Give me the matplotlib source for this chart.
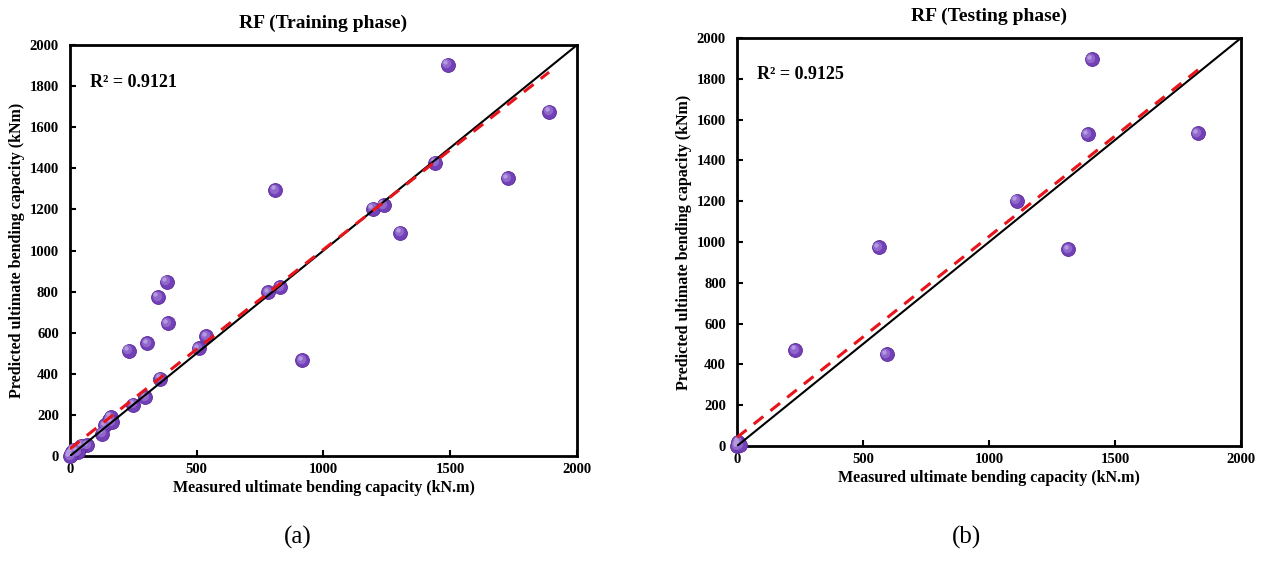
import numpy as np
import matplotlib.pyplot as plt
import matplotlib.transforms as mtransforms

plt.rcParams['font.family'] = ['Liberation Serif', 'DejaVu Serif']
plt.rcParams['font.weight'] = 'bold'

# ---------------- data ----------------
train_meas = [1490, 1890, 1440, 1727, 810, 1195, 1237, 1302, 381, 347, 386,
              783, 830, 538, 508, 304, 232, 916, 357, 297, 249, 161, 155,
              140, 165, 128, 68, 45, 30, 5, 10, 3, 15, 0]
train_pred = [1905, 1675, 1428, 1352, 1295, 1203, 1222, 1087, 848, 774, 645,
              797, 823, 582, 524, 548, 512, 465, 376, 286, 250, 190, 175,
              150, 165, 109, 52, 50, 20, 5, 20, 10, 30, 0]

test_meas = [1408, 1392, 1828, 1110, 1315, 562, 232, 594, 2, 5, 0, 10]
test_pred = [1895, 1527, 1532, 1203, 964, 974, 471, 450, 8, 20, 0, 5]

# linear trend lines: slope, intercept, x-end
train_fit = (0.97, 35, 1890)
test_fit = (0.985, 42, 1830)

r2_train = "R² = 0.9121"
r2_test = "R² = 0.9125"

# -------------------------------------------------------------
fig = plt.figure(figsize=(12.67, 5.63), dpi=100)
ax1 = fig.add_axes([0.0552, 0.190, 0.4002, 0.730])
ax2 = fig.add_axes([0.5817, 0.2078, 0.3978, 0.7247])


def sphere_scatter(ax, x, y):
    """Purple shaded balls: base disc plus a lighter offset highlight."""
    ax.scatter(x, y, s=100, color='#7440B8', edgecolors='#5A2A98',
               linewidths=0.6, zorder=4, clip_on=False)
    off = mtransforms.ScaledTranslation(-1.0 / 72, 1.0 / 72, fig.dpi_scale_trans)
    ax.scatter(x, y, s=45, color='#9068CC', linewidths=0, zorder=5,
               clip_on=False, transform=ax.transData + off)
    off2 = mtransforms.ScaledTranslation(-1.8 / 72, 1.8 / 72, fig.dpi_scale_trans)
    ax.scatter(x, y, s=10, color='#B49BE0', linewidths=0, zorder=6,
               clip_on=False, transform=ax.transData + off2)


def style(ax, title, r2, fit, xm, yp):
    sphere_scatter(ax, xm, yp)
    ax.plot([0, 2000], [0, 2000], color='black', lw=1.5, zorder=7)
    slope, icpt, xend = fit
    xs = np.array([0, xend])
    ax.plot(xs, slope * xs + icpt, color='#E8141B', lw=2.2,
            linestyle=(0, (4, 3)), zorder=8)
    ax.set_xlim(0, 2000)
    ax.set_ylim(0, 2000)
    ax.set_xticks(np.arange(0, 2001, 500))
    ax.set_yticks(np.arange(0, 2001, 200))
    ax.tick_params(direction='in', length=4, width=1.5, labelsize=10.5)
    ax.tick_params(axis='y', pad=8)
    ax.tick_params(axis='x', pad=5)
    for lab in ax.get_xticklabels() + ax.get_yticklabels():
        lab.set_fontweight('bold')
    for sp in ax.spines.values():
        sp.set_linewidth(2)
    ax.set_title(title, fontsize=14, fontweight='bold', pad=12)
    ax.set_xlabel("Measured ultimate bending capacity (kN.m)",
                  fontsize=11.5, fontweight='bold', labelpad=3)
    ax.set_ylabel("Predicted ultimate bending capacity (kNm)",
                  fontsize=11.5, fontweight='bold', labelpad=3)
    ax.text(0.04, 0.91, r2, transform=ax.transAxes, fontsize=13,
            fontweight='bold', va='center', ha='left')


style(ax1, "RF (Training phase)", r2_train, train_fit, train_meas, train_pred)
style(ax2, "RF (Testing phase)", r2_test, test_fit, test_meas, test_pred)

fig.text(0.235, 0.035, "(a)", fontsize=18, fontweight='normal', ha='center')
fig.text(0.7625, 0.035, "(b)", fontsize=18, fontweight='normal', ha='center')

fig.savefig("out.png", dpi=100)
